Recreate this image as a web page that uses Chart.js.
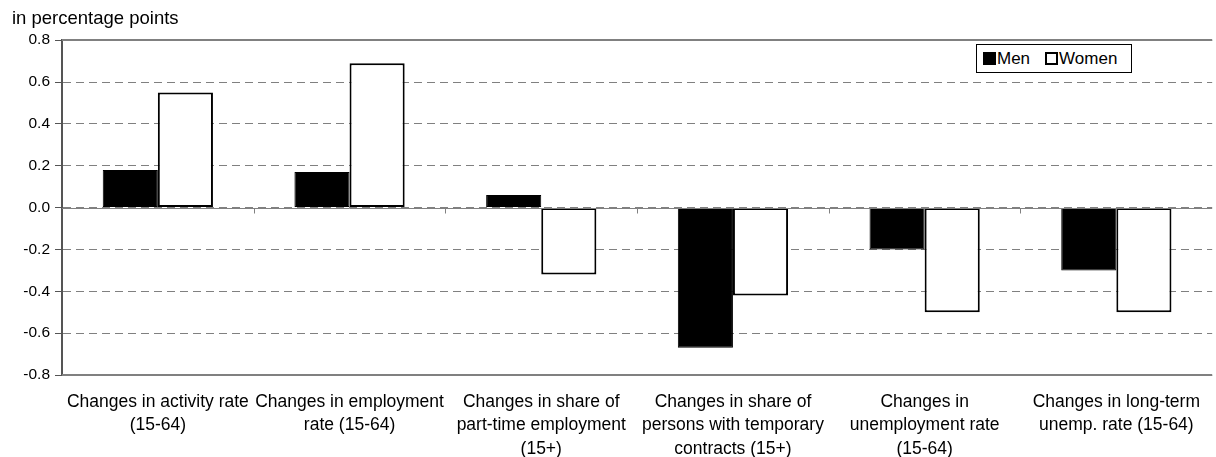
<!DOCTYPE html>
<html>
<head>
<meta charset="utf-8">
<script src="https://cdn.jsdelivr.net/npm/chart.js@4"></script>
<style>
  body { margin: 0; background: #fff; }
  #wrap { position: relative; width: 1216px; height: 457px; }
  #legend {
    position: absolute; left: 976px; top: 44px; width: 148px; height: 27px;
    border: 1px solid #000; background: #fff;
    font: 17px "Liberation Sans", Arial, sans-serif;
    display: flex; align-items: center; padding: 0 0 0 6px;
  }
  #legend span.box { display: inline-block; width: 13px; height: 13px; margin-right: 1px; box-sizing: border-box; }
</style>
</head>
<body>
<div id="wrap">
  <canvas id="chart" width="1216" height="457"></canvas>
  <div id="legend">
    <span class="box" style="background:#000;border:1px solid #000"></span>Men
    <span class="box" style="background:#fff;border:2px solid #000;margin-left:15px"></span>Women
  </div>
</div>
<script>
const categories = [
  ["Changes in activity rate", "(15-64)"],
  ["Changes in employment", "rate (15-64)"],
  ["Changes in share of", "part-time employment", "(15+)"],
  ["Changes in share of", "persons with temporary", "contracts (15+)"],
  ["Changes in", "unemployment rate", "(15-64)"],
  ["Changes in long-term", "unemp. rate (15-64)"]
];
const men = [0.18, 0.17, 0.06, -0.67, -0.20, -0.30];
const women = [0.55, 0.69, -0.32, -0.42, -0.50, -0.50];
const yTicks = [-0.8, -0.6, -0.4, -0.2, 0.0, 0.2, 0.4, 0.6, 0.8];

const font = "'Liberation Sans', Arial, sans-serif";

// solid lines at 0 and the frame, small ticks on the zero line
const extraLines = {
  id: "extraLines",
  afterDatasetsDraw(chart) {
    const { ctx, chartArea, scales } = chart;
    const y = scales.y, x = scales.x;
    ctx.save();
    ctx.strokeStyle = "#808080";
    ctx.lineWidth = 2;
    [0.8, -0.8].forEach(v => {
      const py = Math.round(y.getPixelForValue(v));
      ctx.beginPath();
      ctx.moveTo(chartArea.left, py);
      ctx.lineTo(chartArea.right, py);
      ctx.stroke();
    });
    const z = Math.round(y.getPixelForValue(0)) + 0.5;
    ctx.lineWidth = 1;
    ctx.beginPath();
    ctx.moveTo(chartArea.left, z);
    ctx.lineTo(chartArea.right, z);
    ctx.stroke();
    for (let i = 1; i < categories.length; i++) {
      const px = Math.round((x.getPixelForValue(i - 1) + x.getPixelForValue(i)) / 2) + 0.5;
      ctx.beginPath();
      ctx.moveTo(px, z);
      ctx.lineTo(px, z + 5);
      ctx.stroke();
    }
    ctx.restore();
  }
};

const ctx = document.getElementById("chart").getContext("2d");

new Chart(ctx, {
  type: "bar",
  data: {
    labels: categories,
    datasets: [
      { label: "Men", data: men, backgroundColor: "#000", borderColor: "#000", borderWidth: 1, borderSkipped: false },
      { label: "Women", data: women, backgroundColor: "#fff", borderColor: "#000", borderWidth: 2, borderSkipped: false }
    ]
  },
  options: {
    responsive: false,
    animation: false,
    datasets: { bar: { categoryPercentage: 0.575, barPercentage: 1 } },
    layout: { padding: { left: 12, right: 0, top: 0, bottom: 0 } },
    plugins: {
      legend: { display: false },
      tooltip: { enabled: false },
      title: {
        display: true,
        text: "in percentage points",
        align: "start",
        color: "#000",
        font: { family: font, size: 18.5, weight: "normal" },
        padding: { top: 8, bottom: 10 }
      }
    },
    scales: {
      x: {
        afterFit(axis) { axis.height = 82; },
        grid: { display: false, drawTicks: false },
        border: { display: false },
        ticks: {
          color: "#000",
          font: { family: font, size: 17.5, lineHeight: 1.32 },
          padding: 16,
          maxRotation: 0,
          autoSkip: false
        }
      },
      y: {
        min: -0.8,
        max: 0.8,
        afterFit(axis) { axis.width = 50; },
        afterBuildTicks(axis) { axis.ticks = yTicks.map(v => ({ value: v })); },
        grid: { color: "#808080", tickColor: "#555", tickLength: 7, lineWidth: 1 },
        border: { display: true, color: "#555", width: 2, dash: [8, 5] },
        ticks: {
          color: "#000",
          font: { family: font, size: 15.5 },
          padding: 5,
          callback: v => v.toFixed(1)
        }
      }
    }
  },
  plugins: [extraLines]
});
</script>
</body>
</html>
